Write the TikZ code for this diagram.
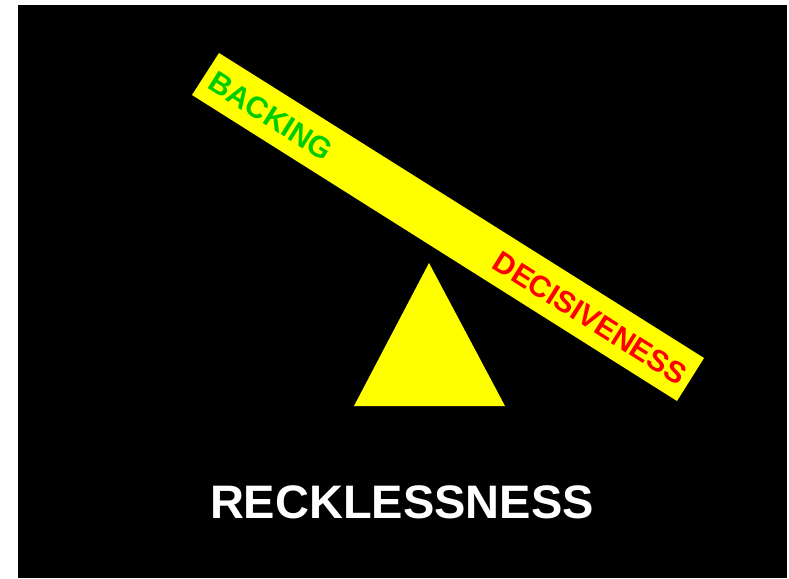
\documentclass[tikz,border=0pt]{standalone}
\usepackage{fontspec}
\setmainfont{Liberation Sans}
\definecolor{beamyellow}{RGB}{255,255,0}
\definecolor{backgreen}{RGB}{0,204,0}
\definecolor{decred}{RGB}{255,0,0}
\begin{document}
\begin{tikzpicture}[x=1pt,y=-1pt,
  beamlabel/.style={font=\bfseries\fontsize{30}{30}\selectfont, inner sep=0pt, rotate=-32.17},
  title/.style={font=\bfseries\fontsize{47}{47}\selectfont, text=white, inner sep=0pt}]
\useasboundingbox (0,0) rectangle (789,578);
\fill[white] (0,0) rectangle (789,578);
\fill[black] (18,5) rectangle (787,578);
% beam
\fill[beamyellow] (219,53) -- (704,358) -- (677,401) -- (192,95) -- cycle;
% fulcrum
\fill[beamyellow] (429,263) -- (505,406) -- (354,406) -- cycle;
\node[beamlabel, text=backgreen] (backing) at (271,116) {BACKING};
\node[beamlabel, text=decred] (decis) at (590,318) {DECISIVENESS};
\node[title] (reck) at (402,502) {RECKLESSNESS};
\end{tikzpicture}
\end{document}
